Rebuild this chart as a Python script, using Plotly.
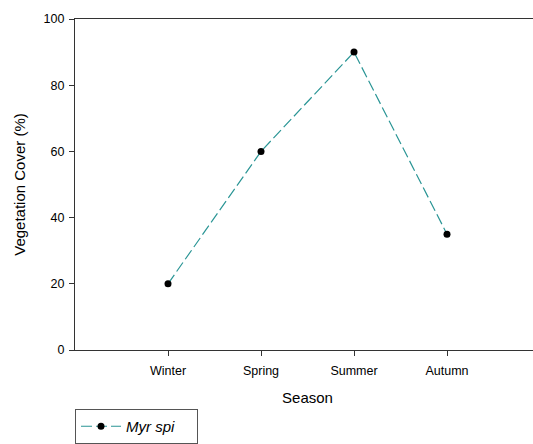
import plotly.graph_objects as go

seasons = ["Winter", "Spring", "Summer", "Autumn"]
cover = [20, 60, 90, 35]
positions = [1, 2, 3, 4]
y_ticks = [0, 20, 40, 60, 80, 100]

fig = go.Figure()
fig.add_trace(go.Scatter(
    x=positions, y=cover, mode="lines+markers", name="<i>Myr spi</i>\u00a0\u00a0\u00a0\u00a0",
    line=dict(color="#2a9595", width=1.2, dash="11px,4px"),
    marker=dict(color="black", size=7, symbol="circle"),
))

font_family = "Liberation Sans, Arial, sans-serif"
fig.update_layout(
    width=540, height=444,
    margin=dict(l=75, r=0, t=19, b=93),
    paper_bgcolor="white", plot_bgcolor="white",
    font=dict(family=font_family, color="black", size=12.5),
    showlegend=True,
    legend=dict(
        x=0.0, y=-0.18, xanchor="left", yanchor="top",
        bordercolor="#555555", borderwidth=1, bgcolor="white",
        font=dict(size=15), itemwidth=40,
    ),
    xaxis=dict(
        range=[0, 5], tickmode="array", tickvals=positions, ticktext=seasons,
        showline=True, linecolor="#333333", linewidth=1.2, mirror=True,
        ticks="outside", ticklen=5, tickcolor="#333333", showgrid=False, zeroline=False,
        ticklabelstandoff=4,
        title=dict(text="Season", font=dict(size=15), standoff=15),
        automargin=False,
    ),
    yaxis=dict(
        range=[0, 100], tickmode="array", tickvals=y_ticks,
        showline=True, linecolor="#333333", linewidth=1.2,
        ticks="outside", ticklen=5, tickcolor="#333333", showgrid=False, zeroline=False,
        ticklabelstandoff=2,
        title=dict(text="Vegetation Cover (%)", font=dict(size=15), standoff=14),
        automargin=False,
    ),
)

fig.write_html("out.html", config={"displayModeBar": False},
               post_script="document.body.style.margin='0';document.body.style.overflow='hidden';document.documentElement.style.overflow='hidden';")
